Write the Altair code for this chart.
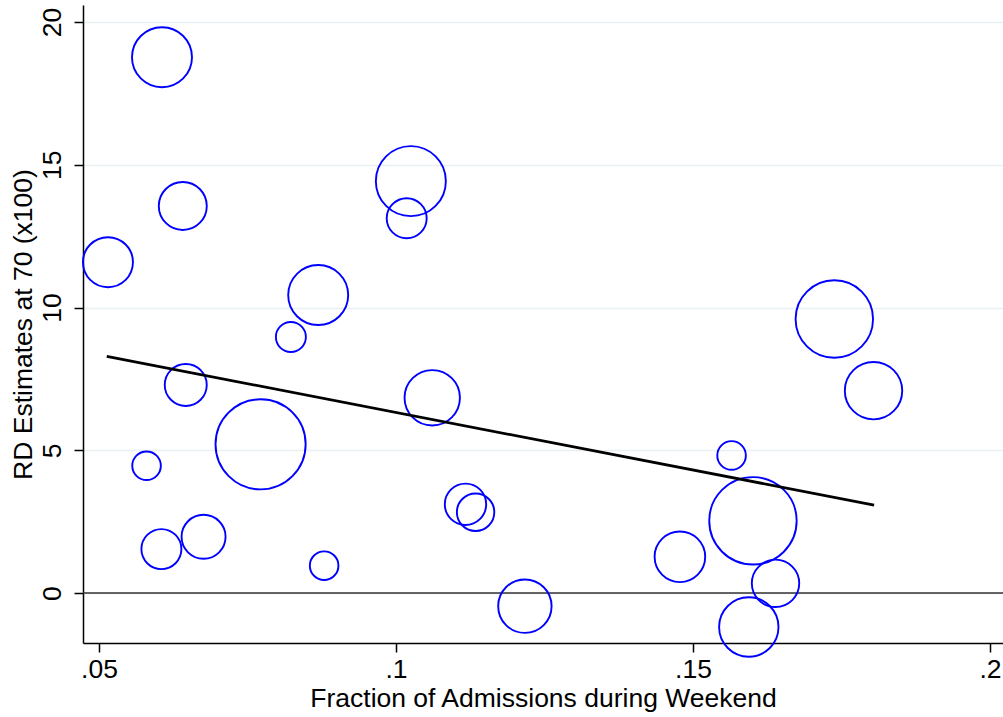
import altair as alt
import pandas as pd

# Scatter points: weekend admission fraction, RD estimate, and bubble weight (area-proportional)
frac_weekend = [0.0515, 0.0606, 0.0641, 0.0646, 0.0580, 0.0605, 0.0676, 0.0772,
                0.0823, 0.0869, 0.0879, 0.1018, 0.1025, 0.1061, 0.1117, 0.1134,
                0.1217, 0.1478, 0.1565, 0.1601, 0.1594, 0.1639, 0.1738, 0.1804]
rd_estimate = [11.59, 18.77, 13.56, 7.29, 4.46, 1.54, 1.97, 5.21,
               8.97, 10.44, 0.96, 13.13, 14.43, 6.84, 3.11, 2.83,
               -0.46, 1.27, 4.82, 2.53, -1.19, 0.34, 9.60, 7.09]
weight = [6.25, 9.0, 5.76, 4.41, 2.04, 4.0, 4.84, 20.3,
          2.25, 9.0, 2.04, 4.0, 12.25, 7.67, 4.28, 3.50,
          7.13, 6.40, 2.04, 19.1, 8.82, 5.62, 15.0, 8.24]

# Fitted line end points
fit_x = [0.0513, 0.1805]
fit_y = [8.29, 3.08]

x_ticks = [0.05, 0.1, 0.15, 0.2]
x_tick_labels = [".05", ".1", ".15", ".2"]
y_ticks = [0, 5, 10, 15, 20]

pts = pd.DataFrame({"x": frac_weekend, "y": rd_estimate, "w": weight})
fit = pd.DataFrame({"x": fit_x, "y": fit_y})
zero = pd.DataFrame({"y": [0]})

x_label_expr = " : ".join(
    [f"datum.value == {v} ? '{l}'" for v, l in zip(x_ticks, x_tick_labels)]
) + " : ''"

FONT = "Liberation Sans"
x_scale = alt.Scale(domain=[0.0473, 0.2022], nice=False, zero=False)
y_scale = alt.Scale(domain=[-1.75, 20.6], nice=False, zero=False)

x_axis = alt.Axis(values=x_ticks, labelExpr=x_label_expr, title="Fraction of Admissions during Weekend",
                  grid=False, tickSize=9, labelPadding=4, titlePadding=3,
                  labelFontSize=26.5, titleFontSize=26.5, labelFont=FONT, titleFont=FONT,
                  titleFontWeight="normal", domainColor="#000000", tickColor="#000000",
                  labelColor="#000000", titleColor="#000000", domainWidth=1.5, tickWidth=1.5)
y_axis = alt.Axis(values=y_ticks, title="RD Estimates at 70 (x100)", grid=True,
                  gridColor="#e8f0f2", gridWidth=1.5, tickSize=9, labelAngle=270,
                  labelAlign="center", labelBaseline="bottom", labelPadding=8, titlePadding=2,
                  labelFontSize=26.5, titleFontSize=26.5, labelFont=FONT, titleFont=FONT,
                  titleFontWeight="normal", domainColor="#000000", tickColor="#000000",
                  labelColor="#000000", titleColor="#000000", domainWidth=1.5, tickWidth=1.5)

zero_rule = alt.Chart(zero).mark_rule(color="#333333", strokeWidth=1.6).encode(
    y=alt.Y("y:Q", scale=y_scale, axis=y_axis)
)

circles = alt.Chart(pts).mark_point(shape="circle", filled=False, color="#0000ff",
                                     strokeWidth=1.9, opacity=1).encode(
    x=alt.X("x:Q", scale=x_scale, axis=x_axis),
    y=alt.Y("y:Q", scale=y_scale, axis=y_axis),
    size=alt.Size("w:Q", scale=alt.Scale(type="linear", domain=[0, 25], range=[0, 10000]), legend=None),
)

fit_line = alt.Chart(fit).mark_line(color="#000000", strokeWidth=2.8).encode(
    x=alt.X("x:Q", scale=x_scale, axis=x_axis),
    y=alt.Y("y:Q", scale=y_scale, axis=y_axis),
)

chart = alt.layer(zero_rule, circles, fit_line).properties(
    width=920, height=638,
    autosize=alt.AutoSizeParams(type="none"),
    padding={"left": 83, "top": 5, "right": 0, "bottom": 74},
    background="#ffffff",
).configure_view(stroke=None)

chart.save("out.html", embed_options={"renderer": "svg", "actions": False})
